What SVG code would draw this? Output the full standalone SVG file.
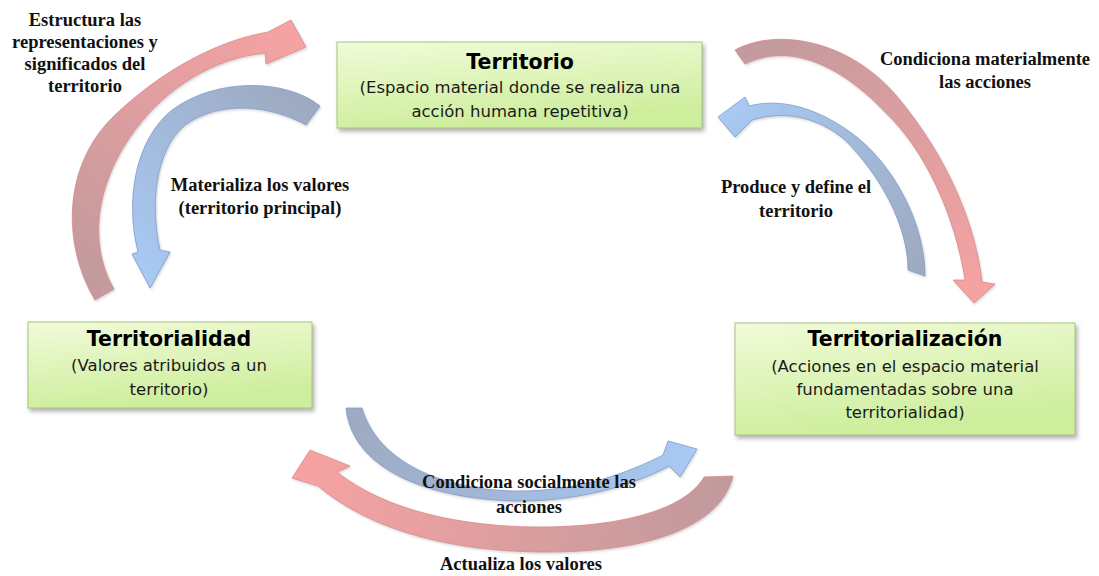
<svg xmlns="http://www.w3.org/2000/svg" width="1099" height="576" viewBox="0 0 1099 576">
<defs>
<style>
.box{fill:url(#boxg);stroke:#a9c47e;stroke-width:1;filter:url(#sh)}
.title{font-family:"DejaVu Sans",Verdana,sans-serif;font-weight:bold;font-size:20.5px;fill:#000;text-anchor:middle}
.body{font-family:"DejaVu Sans",Verdana,sans-serif;font-size:16.5px;fill:#1a1a1a;text-anchor:middle}
.lbl{font-family:"Liberation Serif","Times New Roman",serif;font-weight:bold;font-size:18.5px;fill:#111;text-anchor:middle}
.rarrow{stroke:#d98a8a;stroke-width:0.8;filter:url(#ash)}
.barrow{stroke:#7f9ccc;stroke-width:0.8;filter:url(#ash)}
.rh{stop-color:#f6a2a2}
.rt{stop-color:#c29a9d}
.bh{stop-color:#a7c9f3}
.bt{stop-color:#9eaac2}
</style>
<linearGradient id="boxg" x1="0" y1="0" x2="0.3" y2="1">
<stop offset="0" stop-color="#f1fbd9"/>
<stop offset="1" stop-color="#cdee9c"/>
</linearGradient>
<filter id="sh" x="-10%" y="-10%" width="125%" height="140%">
<feDropShadow dx="2" dy="3" stdDeviation="2" flood-color="#6f6f6f" flood-opacity="0.55"/>
</filter>
<filter id="ash" x="-10%" y="-10%" width="125%" height="125%">
<feDropShadow dx="1" dy="1.5" stdDeviation="1.2" flood-color="#888" flood-opacity="0.35"/>
</filter>
<linearGradient id="gA" gradientUnits="userSpaceOnUse" x1="104" y1="295" x2="295" y2="35"><stop offset="0" class="rt"/><stop offset="1" class="rh"/></linearGradient>
<linearGradient id="gB" gradientUnits="userSpaceOnUse" x1="313" y1="115" x2="150" y2="280"><stop offset="0" class="bt"/><stop offset="1" class="bh"/></linearGradient>
<linearGradient id="gC" gradientUnits="userSpaceOnUse" x1="740" y1="56" x2="975" y2="295"><stop offset="0" class="rt"/><stop offset="1" class="rh"/></linearGradient>
<linearGradient id="gD" gradientUnits="userSpaceOnUse" x1="915" y1="272" x2="722" y2="118"><stop offset="0" class="bt"/><stop offset="1" class="bh"/></linearGradient>
<linearGradient id="gE" gradientUnits="userSpaceOnUse" x1="354" y1="408" x2="690" y2="452"><stop offset="0" class="bt"/><stop offset="1" class="bh"/></linearGradient>
<linearGradient id="gF" gradientUnits="userSpaceOnUse" x1="718" y1="477" x2="312" y2="455"><stop offset="0" class="rt"/><stop offset="1" class="rh"/></linearGradient>
</defs>
<rect width="1099" height="576" fill="#fff"/>

<g id="connectors">
<g id="arrow-estructura">
<path class="rarrow" fill="url(#gA)" d="M 95,300 C 62,245 62,165 115,115 C 155,77 210,42 268,32 L 291,20 L 306,47 L 266,64 L 265,53 C 215,58 168,86 135,130 C 100,177 85,238 114,289 Z"/>
<text class="lbl" x="85" y="26">Estructura las</text>
<text class="lbl" x="85" y="48">representaciones y</text>
<text class="lbl" x="85" y="70">significados del</text>
<text class="lbl" x="85" y="92">territorio</text>
</g>
<g id="arrow-materializa">
<path class="barrow" fill="url(#gB)" d="M 320,106 C 285,78 215,78 172,110 C 135,140 125,200 138,252 L 132,254 L 150,288 L 170,252 L 160,250 C 150,205 155,150 185,125 C 220,100 270,105 306,125 Z"/>
<text class="lbl" x="260" y="191">Materializa los valores</text>
<text class="lbl" x="260" y="214">(territorio principal)</text>
</g>
<g id="arrow-condiciona-mat">
<path class="rarrow" fill="url(#gC)" d="M 735,50 C 775,28 850,38 900,100 C 945,155 975,220 982,282 L 995,284 L 974,303 L 953,280 L 965,280 C 955,215 925,150 885,112 C 840,65 790,42 745,64 Z"/>
<text class="lbl" x="985" y="65">Condiciona materialmente</text>
<text class="lbl" x="985" y="88">las acciones</text>
</g>
<g id="arrow-produce">
<path class="barrow" fill="url(#gD)" d="M 925,276 C 925,220 890,160 850,132 C 815,107 780,98 749,106 L 745,97 L 718,117 L 735,137 L 752,120 C 785,110 818,117 845,140 C 880,175 908,225 908,270 Z"/>
<text class="lbl" x="796" y="193">Produce y define el</text>
<text class="lbl" x="796" y="217">territorio</text>
</g>
<g id="arrow-condiciona-soc">
<path class="barrow" fill="url(#gE)" d="M 346,408 C 352,470 430,500 520,501 C 585,501 640,482 669,466 L 680,477 L 697,449 L 668,441 L 663,455 C 630,472 580,491 520,491 C 440,491 377,460 362,408 Z"/>
<text class="lbl" x="529" y="488">Condiciona socialmente las</text>
<text class="lbl" x="529" y="513">acciones</text>
</g>
<g id="arrow-actualiza">
<path class="rarrow" fill="url(#gF)" d="M 733,476 C 720,530 640,553 540,552 C 450,551 370,530 318,486 L 292,478 L 310,450 L 350,466 L 337,472 C 385,510 460,527 540,527 C 620,527 685,510 704,477 Z"/>
<text class="lbl" x="521" y="570">Actualiza los valores</text>
</g>
</g>

<g id="node-territorio">
<rect class="box" x="337" y="42" width="365" height="86"/>
<text class="title" x="520" y="69">Territorio</text>
<text class="body" x="520" y="93">(Espacio material donde se realiza una</text>
<text class="body" x="520" y="117">acción humana repetitiva)</text>
</g>

<g id="node-territorialidad">
<rect class="box" x="28" y="322" width="284" height="86"/>
<text class="title" x="169" y="346">Territorialidad</text>
<text class="body" x="169" y="371">(Valores atribuidos a un</text>
<text class="body" x="169" y="395">territorio)</text>
</g>

<g id="node-territorializacion">
<rect class="box" x="735" y="323" width="340" height="112"/>
<text class="title" x="905" y="346">Territorialización</text>
<text class="body" x="905" y="372">(Acciones en el espacio material</text>
<text class="body" x="905" y="395">fundamentadas sobre una</text>
<text class="body" x="905" y="418">territorialidad)</text>
</g>
</svg>
